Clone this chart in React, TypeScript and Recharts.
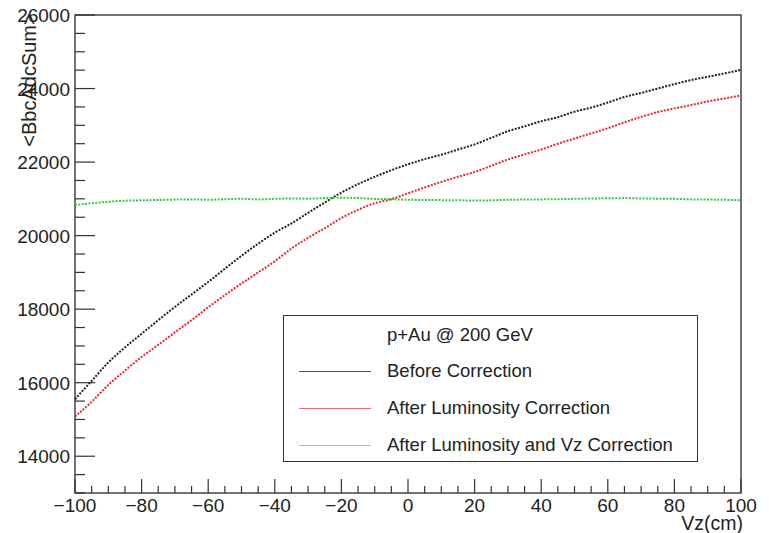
import React from "react";
import {
  LineChart,
  Line,
  XAxis,
  YAxis,
  Legend,
  ReferenceArea,
} from "recharts";

const vz = [
  -100, -95, -90, -85, -80, -75, -70, -65, -60, -55, -50, -45, -40, -35, -30,
  -25, -20, -15, -10, -5, 0, 5, 10, 15, 20, 25, 30, 35, 40, 45, 50, 55, 60, 65,
  70, 75, 80, 85, 90, 95, 100,
];

const beforeCorr = [
  15550, 16050, 16550, 16960, 17330, 17700, 18060, 18400, 18740, 19100, 19450,
  19780, 20080, 20330, 20620, 20900, 21170, 21400, 21600, 21780, 21940, 22080,
  22200, 22340, 22480, 22660, 22840, 22970, 23110, 23220, 23370, 23480, 23620,
  23770, 23880, 24000, 24120, 24230, 24320, 24410, 24510,
];

const afterLumi = [
  15080, 15480, 15940, 16330, 16700, 17030, 17370, 17700, 18050, 18380, 18700,
  19000, 19300, 19650, 19940, 20200, 20480, 20700, 20880, 20990, 21150, 21310,
  21460, 21600, 21730, 21900, 22070, 22210, 22340, 22500, 22640, 22780, 22920,
  23080, 23230, 23360, 23460, 23550, 23650, 23730, 23810,
];

const afterLumiVz = [
  20830, 20880, 20920, 20950, 20960, 20970, 20980, 20985, 20975, 20990, 21000,
  20985, 21000, 21010, 21005, 21020, 21030, 21020, 21000, 20990, 20975, 20970,
  20965, 20960, 20955, 20960, 20975, 20980, 20985, 20990, 21000, 21010, 21015,
  21020, 21010, 21005, 21000, 20985, 20980, 20975, 20960,
];

const seriesNames = [
  "Before Correction",
  "After Luminosity Correction",
  "After Luminosity and Vz Correction",
];
const seriesKeys = ["before", "lumi", "lumiVz"];
const seriesColors = ["#222222", "#e0282b", "#33cc33"];
const legendColors = ["#555555", "#f06a6a", "#66ee66"];

const xMajor = [-100, -80, -60, -40, -20, 0, 20, 40, 60, 80, 100];
const yMajor = [14000, 16000, 18000, 20000, 22000, 24000, 26000];

const xTicks: number[] = [];
for (let v = -100; v <= 100; v += 5) xTicks.push(v);
const yTicks: number[] = [];
for (let v = 13000; v <= 26000; v += 500) yTicks.push(v);

const data = vz.map((x, i) => ({
  vz: x,
  before: beforeCorr[i],
  lumi: afterLumi[i],
  lumiVz: afterLumiVz[i],
}));

const FONT = "'Liberation Sans', Arial, sans-serif";
const TEXT = "#222";

function YTick(props: any) {
  const { x, y, payload } = props;
  const major = yMajor.includes(payload.value);
  return (
    <g>
      <line x1={x} x2={x + (major ? 20 : 10)} y1={y} y2={y} stroke="#333" strokeWidth={1.2} />
      {major && (
        <text x={x - 5} y={y + 7} textAnchor="end" fontSize={19} fontFamily={FONT} fill={TEXT}>
          {payload.value}
        </text>
      )}
    </g>
  );
}

function XTick(props: any) {
  const { x, y, payload } = props;
  const major = xMajor.includes(payload.value);
  return (
    <g>
      <line x1={x} x2={x} y1={y} y2={y - (major ? 14 : 7)} stroke="#333" strokeWidth={1.2} />
      {major && (
        <text x={x} y={y + 19} textAnchor="middle" fontSize={19} fontFamily={FONT} fill={TEXT}>
          {payload.value < 0 ? `\u2212${-payload.value}` : payload.value}
        </text>
      )}
    </g>
  );
}

function LegendBox() {
  return (
    <div
      style={{
        width: 415,
        height: 147,
        border: "1.3px solid #333",
        boxSizing: "border-box",
        background: "white",
        fontFamily: FONT,
        fontSize: 18.5,
        lineHeight: "22px",
        color: TEXT,
        position: "relative",
      }}
    >
      <div style={{ position: "absolute", left: 103, top: 8 }}>p+Au @ 200 GeV</div>
      {seriesNames.map((name, i) => (
        <div key={name} style={{ position: "absolute", left: 0, top: 44 + i * 37.2, height: 22 }}>
          <div
            style={{
              position: "absolute",
              left: 15,
              top: 11,
              width: 72,
              height: 0,
              borderTop: `1.5px solid ${legendColors[i]}`,
            }}
          />
          <div style={{ position: "absolute", left: 103, top: 0, whiteSpace: "nowrap" }}>{name}</div>
        </div>
      ))}
    </div>
  );
}

export default function App() {
  return (
    <div style={{ position: "absolute", left: 0, top: 0, background: "white" }}>
      <LineChart
        width={769}
        height={533}
        data={data}
        margin={{ top: 15, right: 28, bottom: 39, left: 74 }}
      >
        <ReferenceArea
          x1={-100}
          x2={100}
          y1={13000}
          y2={26000}
          fill="none"
          stroke="#444"
          strokeWidth={1.5}
          fillOpacity={0}
        />
        <XAxis
          dataKey="vz"
          type="number"
          domain={[-100, 100]}
          ticks={xTicks}
          interval={0}
          height={1}
          tickSize={0}
          tickMargin={0}
          axisLine={false}
          tickLine={false}
          tick={<XTick />}
          label={(p: any) => (
            <text
              x={p.viewBox.x + p.viewBox.width + 2}
              y={p.viewBox.y + 37}
              textAnchor="end"
              fontSize={19.5}
              fontFamily={FONT}
              fill={TEXT}
            >
              Vz(cm)
            </text>
          )}
        />
        <YAxis
          type="number"
          domain={[13000, 26000]}
          ticks={yTicks}
          interval={0}
          width={1}
          tickSize={0}
          tickMargin={0}
          axisLine={false}
          tickLine={false}
          tick={<YTick />}
          label={(p: any) => (
            <text
              x={0}
              y={0}
              transform={`translate(${p.viewBox.x + p.viewBox.width - 39}, ${p.viewBox.y + 65}) rotate(-90)`}
              textAnchor="middle"
              fontSize={20}
              fontFamily={FONT}
              fill={TEXT}
            >
              {"<BbcAdcSum>"}
            </text>
          )}
        />
        {seriesKeys.map((key, i) => (
          <Line
            key={key}
            dataKey={key}
            name={seriesNames[i]}
            type="monotone"
            stroke={seriesColors[i]}
            strokeWidth={2}
            strokeDasharray="2 1.4"
            dot={false}
            isAnimationActive={false}
          />
        ))}
        <Legend
          layout="horizontal"
          align="center"
          verticalAlign="middle"
          content={<LegendBox />}
          wrapperStyle={{ left: 283, top: 315, width: 415, height: 147 }}
        />
      </LineChart>
    </div>
  );
}
